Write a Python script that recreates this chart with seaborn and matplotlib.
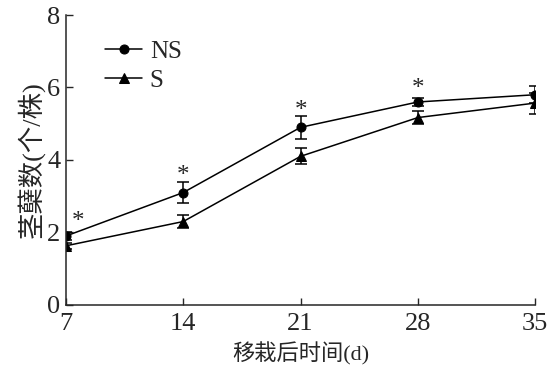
import numpy as np
import pandas as pd
import matplotlib
matplotlib.use('Agg')
import matplotlib.pyplot as plt
import seaborn as sns

days = [7, 14, 21, 28, 35]
ns_mean = [1.9, 3.1, 4.9, 5.6, 5.8]
ns_err = [0.1, 0.29, 0.31, 0.1, 0.23]
s_mean = [1.63, 2.3, 4.1, 5.17, 5.57]
s_err = [0.08, 0.17, 0.22, 0.19, 0.29]
sig_days = [7, 14, 21, 28]
sig_y = [2.3, 3.55, 5.35, 5.95]

sns.set_style('ticks')
plt.rcParams['font.family'] = ['Liberation Serif', 'Noto Sans CJK SC']
plt.rcParams['axes.unicode_minus'] = False

df = pd.DataFrame({
    'day': days * 2,
    'value': ns_mean + s_mean,
    'group': ['NS'] * len(days) + ['S'] * len(days),
})

fig = plt.figure(figsize=(5.49, 3.66), dpi=100)
ax = fig.add_axes([0.120, 0.167, 0.855, 0.792])

sns.lineplot(data=df, x='day', y='value', hue='group', style='group',
             palette=['black', 'black'], markers=['o', '^'], dashes=False,
             markersize=6.5, linewidth=1.1, markeredgecolor='black', ax=ax)

ax.errorbar(days, ns_mean, yerr=ns_err, fmt='none', ecolor='black',
            elinewidth=1.1, capsize=4, capthick=1.1)
ax.errorbar(days, s_mean, yerr=s_err, fmt='none', ecolor='black',
            elinewidth=1.1, capsize=4, capthick=1.1)

# significance marks above NS
for d, y in zip(sig_days, sig_y):
    dx = 0.7 if d == 7 else 0
    ax.text(d + dx, y, '*', ha='center', va='center', fontsize=18)

ax.set_xlim(7, 35)
ax.set_ylim(0, 8)
ax.set_xticks(days)
ax.set_yticks([0, 2, 4, 6, 8])
ax.tick_params(direction='in', length=5, width=1, labelsize=19)
ax.tick_params(axis='x', pad=6)
ax.tick_params(axis='y', pad=4)
for s in ['left', 'bottom']:
    ax.spines[s].set_linewidth(1.1)
sns.despine(ax=ax)

ax.set_xlabel('移栽后时间(d)', fontsize=16, labelpad=5)
ax.set_ylabel('茎蘖数(个/株)', fontsize=19, labelpad=2)

leg = ax.legend(loc='upper left', bbox_to_anchor=(0.035, 0.99), frameon=False,
                fontsize=18, handlelength=1.5, handletextpad=0.3, labelspacing=0.25)

fig.savefig('out.png', dpi=100)
